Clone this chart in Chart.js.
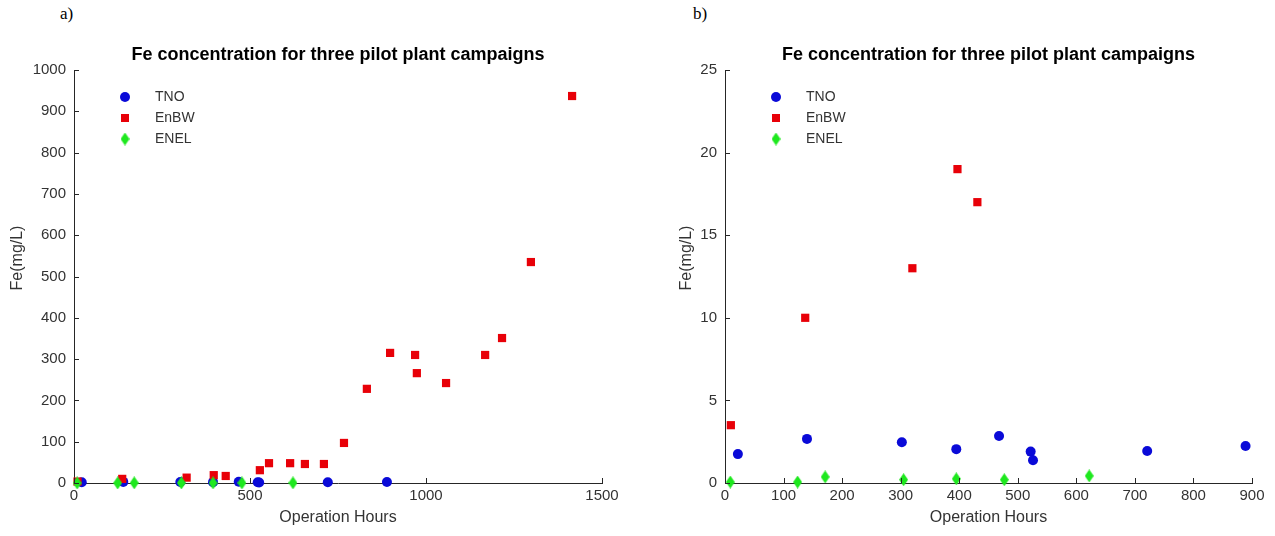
<!DOCTYPE html>
<html>
<head>
<meta charset="utf-8">
<script src="https://cdn.jsdelivr.net/npm/chart.js@4.4.0/dist/chart.umd.min.js"></script>
<style>
  body { margin: 0; background: #fff; width: 1275px; height: 536px; position: relative; overflow: hidden; }
  canvas { position: absolute; top: 0; }
  #chartA { left: 0; }
  #chartB { left: 637px; }
  .panel { position: absolute; top: 4px; font: 17px "Liberation Serif", "Times New Roman", serif; color: #000; }
</style>
</head>
<body>
<div class="panel" style="left:60px">a)</div>
<div class="panel" style="left:693px">b)</div>
<canvas id="chartA" width="637" height="536"></canvas>
<canvas id="chartB" width="638" height="536"></canvas>
<script>
"use strict";

// values (hours, mg/L)
const seriesNames = ["TNO", "EnBW", "ENEL"];

const tnoHours = [22, 140, 302, 395, 468, 522, 526, 721, 889];
const tnoFe = [1.75, 2.67, 2.47, 2.05, 2.85, 1.9, 1.38, 1.94, 2.24];

const enbwHours = [10, 137, 320, 397, 431, 528, 554, 614, 656, 710, 767, 832, 898, 969, 974, 1057, 1168, 1216, 1298, 1415];
const enbwFe = [3.5, 10, 13, 19, 17, 31, 48, 48, 46, 46, 97, 228, 315, 310, 266, 242, 310, 351, 535, 937];

const enelHours = [9, 124, 171, 305, 395, 477, 622];
const enelFe = [0.06, 0.06, 0.37, 0.2, 0.25, 0.2, 0.43];

const chartTitle = "Fe concentration for three pilot plant campaigns";
const xTitle = "Operation Hours";
const yTitle = "Fe(mg/L)";

const colors = ["#0a0ad8", "#e80008", "#1ee81e"];
const textColor = "#333333";
const fontFamily = "'Liberation Sans', Arial, sans-serif";

function toPoints(xs, ys) {
  return xs.map((x, i) => ({ x: x, y: ys[i] }));
}

function makeDiamond(color, w, h) {
  const c = document.createElement("canvas");
  c.width = w;
  c.height = h;
  const g = c.getContext("2d");
  g.fillStyle = color;
  g.beginPath();
  g.moveTo(w / 2, 0);
  g.lineTo(w, h / 2);
  g.lineTo(w / 2, h);
  g.lineTo(0, h / 2);
  g.closePath();
  g.fill();
  return c;
}

const diamond = makeDiamond(colors[2], 9, 13);

function drawMarker(ctx, i, x, y) {
  ctx.fillStyle = colors[i];
  if (i === 0) {
    ctx.beginPath();
    ctx.arc(x, y, 5, 0, Math.PI * 2);
    ctx.fill();
  } else if (i === 1) {
    ctx.fillRect(x - 4, y - 4, 8, 8);
  } else {
    ctx.drawImage(diamond, x - diamond.width / 2, y - diamond.height / 2);
  }
}

// matlab style: ticks pointing into the plot
const inwardTicks = {
  id: "inwardTicks",
  afterDraw(chart) {
    const { ctx, chartArea, scales } = chart;
    ctx.save();
    ctx.strokeStyle = "#262626";
    ctx.lineWidth = 1;
    ctx.beginPath();
    scales.x.ticks.forEach(t => {
      const px = Math.round(scales.x.getPixelForValue(t.value)) + 0.5;
      ctx.moveTo(px, chartArea.bottom);
      ctx.lineTo(px, chartArea.bottom - 5);
    });
    scales.y.ticks.forEach(t => {
      const py = Math.round(scales.y.getPixelForValue(t.value)) + 0.5;
      ctx.moveTo(chartArea.left, py);
      ctx.lineTo(chartArea.left + 5, py);
    });
    ctx.stroke();
    ctx.restore();
  }
};

// title centred over the plot box, y label a bit above the middle like the figure
const titles = {
  id: "titles",
  afterDraw(chart) {
    const { ctx, chartArea, scales } = chart;
    ctx.save();
    ctx.textAlign = "center";
    ctx.textBaseline = "middle";
    ctx.fillStyle = "#000";
    ctx.font = "bold 18px " + fontFamily;
    ctx.fillText(chartTitle, (chartArea.left + chartArea.right) / 2, chartArea.top - 15);
    ctx.fillStyle = textColor;
    ctx.font = "16px " + fontFamily;
    ctx.translate(scales.y.left + 10, chartArea.top + 188);
    ctx.rotate(-Math.PI / 2);
    ctx.fillText(yTitle, 0, 0);
    ctx.restore();
  }
};

const insideLegend = {
  id: "insideLegend",
  afterDatasetsDraw(chart) {
    const { ctx, chartArea } = chart;
    ctx.save();
    ctx.font = "14px " + fontFamily;
    ctx.textBaseline = "middle";
    seriesNames.forEach((name, i) => {
      const y = chartArea.top + 27 + i * 21;
      drawMarker(ctx, i, chartArea.left + 51, y);
      ctx.fillStyle = textColor;
      ctx.fillText(name, chartArea.left + 81, y);
    });
    ctx.restore();
  }
};

function makeChart(id, opts) {
  const ctx = document.getElementById(id).getContext("2d");
  const clip = { left: 8, top: 0, right: 8, bottom: 8 };
  return new Chart(ctx, {
    type: "scatter",
    data: {
      datasets: [
        {
          label: seriesNames[0],
          data: toPoints(tnoHours, tnoFe),
          pointStyle: "circle",
          pointRadius: 5,
          backgroundColor: colors[0],
          borderColor: colors[0],
          borderWidth: 0,
          order: 3,
          clip: clip
        },
        {
          label: seriesNames[1],
          data: toPoints(enbwHours, enbwFe),
          pointStyle: "rect",
          pointRadius: 5.8,
          backgroundColor: colors[1],
          borderColor: colors[1],
          borderWidth: 0,
          order: 2,
          clip: clip
        },
        {
          label: seriesNames[2],
          data: toPoints(enelHours, enelFe),
          pointStyle: diamond,
          pointRadius: 5,
          backgroundColor: colors[2],
          order: 1,
          clip: clip
        }
      ]
    },
    options: {
      responsive: false,
      animation: false,
      events: [],
      layout: {
        padding: { left: opts.padLeft, right: opts.padRight, top: 70, bottom: 0 }
      },
      plugins: {
        legend: { display: false },
        tooltip: { enabled: false },
        title: { display: false }
      },
      scales: {
        x: {
          type: "linear",
          min: 0,
          max: opts.xMax,
          afterFit: scale => { scale.height = 53; },
          ticks: {
            stepSize: opts.xStep,
            color: textColor,
            padding: 4,
            font: { family: fontFamily, size: 15 },
            callback: v => String(v)
          },
          grid: { drawOnChartArea: false, drawTicks: false },
          border: { color: "#262626", width: 1 },
          title: {
            display: true,
            text: xTitle,
            color: textColor,
            padding: { top: 0, bottom: 9 },
            font: { family: fontFamily, size: 16 }
          }
        },
        y: {
          type: "linear",
          min: 0,
          max: opts.yMax,
          afterFit: scale => { scale.width = opts.yWidth; },
          ticks: {
            stepSize: opts.yStep,
            color: textColor,
            padding: 8,
            font: { family: fontFamily, size: 15 },
            callback: v => String(v)
          },
          grid: { drawOnChartArea: false, drawTicks: false },
          border: { color: "#262626", width: 1 },
          title: { display: false }
        }
      }
    },
    plugins: [inwardTicks, titles, insideLegend]
  });
}

makeChart("chartA", { xMax: 1500, xStep: 500, yMax: 1000, yStep: 100, padLeft: 8, padRight: 35, yWidth: 66 });
makeChart("chartB", { xMax: 900, xStep: 100, yMax: 25, yStep: 5, padLeft: 40, padRight: 23, yWidth: 48 });
</script>
</body>
</html>
